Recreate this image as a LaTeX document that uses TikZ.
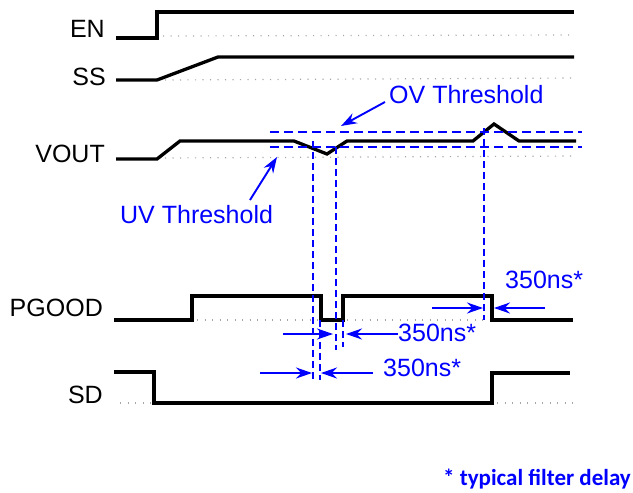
\documentclass[tikz,border=0pt]{standalone}
\usepackage{xcolor}
\usepackage{fontspec}
\setmainfont{Liberation Sans}
\newfontfamily\notefont{Carlito}
\usepackage{tikz}
\usetikzlibrary{arrows.meta}

\begin{document}
\begin{tikzpicture}[x=1pt, y=-1pt]
\tikzstyle{wave}=[line width=3.3pt]
\tikzstyle{zero}=[gray!70, line width=1.2pt, dash pattern=on 1.2pt off 6.3pt]
\tikzstyle{thresh}=[blue, line width=2.6pt, dash pattern=on 9pt off 5pt]
\tikzstyle{marker}=[blue, line width=2pt, dash pattern=on 7pt off 4pt]
\tikzstyle{delay}=[blue, line width=1.9pt, -{Stealth[length=16pt, width=11pt]}]
\tikzstyle{sig}=[anchor=east, inner sep=0pt, font=\fontsize{25}{30}\selectfont]
\tikzstyle{note}=[anchor=west, inner sep=0pt, text=blue, font=\fontsize{25}{30}\selectfont]
\useasboundingbox (0,0) rectangle (633,493);

% signal names
\node[sig] (en) at (105,28.5) {EN};
\node[sig] (ss) at (106,77) {SS};
\node[sig] (vout) at (105,153.5) {VOUT};
\node[sig] (pgood) at (103,308) {PGOOD};
\node[sig] (sd) at (103,395) {SD};

% zero levels
\draw[zero] (163,36) -- (573,35);
\draw[zero] (165,80) -- (577,78);
\draw[zero] (165,158) -- (577,156);
\draw[zero] (197,320) -- (573,320);
\draw[zero] (120,403) -- (153,403);
\draw[zero] (497,403) -- (573,403);

% waveforms
\draw[wave] (116,38) -- (157,38) -- (157,12) -- (574,12);
\draw[wave] (116,80) -- (157,80) -- (218,57) -- (574,57);
\draw[wave] (116,159) -- (157,159) -- (180,141) -- (294,141) -- (327,154)
  -- (347,141) -- (473,141) -- (494,124) -- (519,141) -- (576,141);
\draw[wave] (114,320) -- (192,320) -- (192,296) -- (321,296) -- (321,320)
  -- (343,320) -- (343,296) -- (492,296) -- (492,320) -- (573,320);
\draw[wave] (114,372) -- (154,372) -- (154,403) -- (492,403) -- (492,373) -- (570,373);

% thresholds
\draw[thresh] (270,132) -- (582,132);
\draw[thresh] (270,147) -- (582,147);

\node[note] (ov) at (389,95) {OV Threshold};
\node[note] (uv) at (120,215) {UV Threshold};
\coordinate (ovtail) at (385,102);
\coordinate (ovtip) at (341,126);
\coordinate (uvtail) at (250,200);
\coordinate (uvtip) at (277,157);
\draw[delay] (ovtail) -- (ovtip);
\draw[delay] (uvtail) -- (uvtip);

% timing markers
\draw[marker] (313,141) -- (313,380);
\draw[marker] (320,320) -- (320,380);
\draw[marker] (336,147) -- (336,350);
\draw[marker] (343,320) -- (343,347);
\draw[marker] (484,128) -- (484,320);

% filter delays
\node[note] (d1) at (398,333) {350ns*};
\node[note] (d2) at (383,368) {350ns*};
\node[note] (d3) at (505,280) {350ns*};
\coordinate (a1) at (283,334);
\coordinate (t1) at (333,334);
\coordinate (t1b) at (346,334);
\coordinate (a2) at (260,373);
\coordinate (t2) at (312,373);
\coordinate (t2b) at (321,373);
\coordinate (a3) at (432,308);
\coordinate (t3) at (483,308);
\coordinate (b3) at (545,308);
\coordinate (t3b) at (494,308);
\draw[delay] (a1) -- (t1);
\draw[delay] (d1.west |- t1b) -- (t1b);
\draw[delay] (a2) -- (t2);
\draw[delay] (373,373) -- (t2b);
\draw[delay] (a3) -- (t3);
\draw[delay] (b3) -- (t3b);

\node[anchor=base east, inner sep=0pt, text=blue, font=\notefont\bfseries\fontsize{23}{28}\selectfont]
  (foot) at (631,485) {* typical filter delay};
\end{tikzpicture}
\end{document}
